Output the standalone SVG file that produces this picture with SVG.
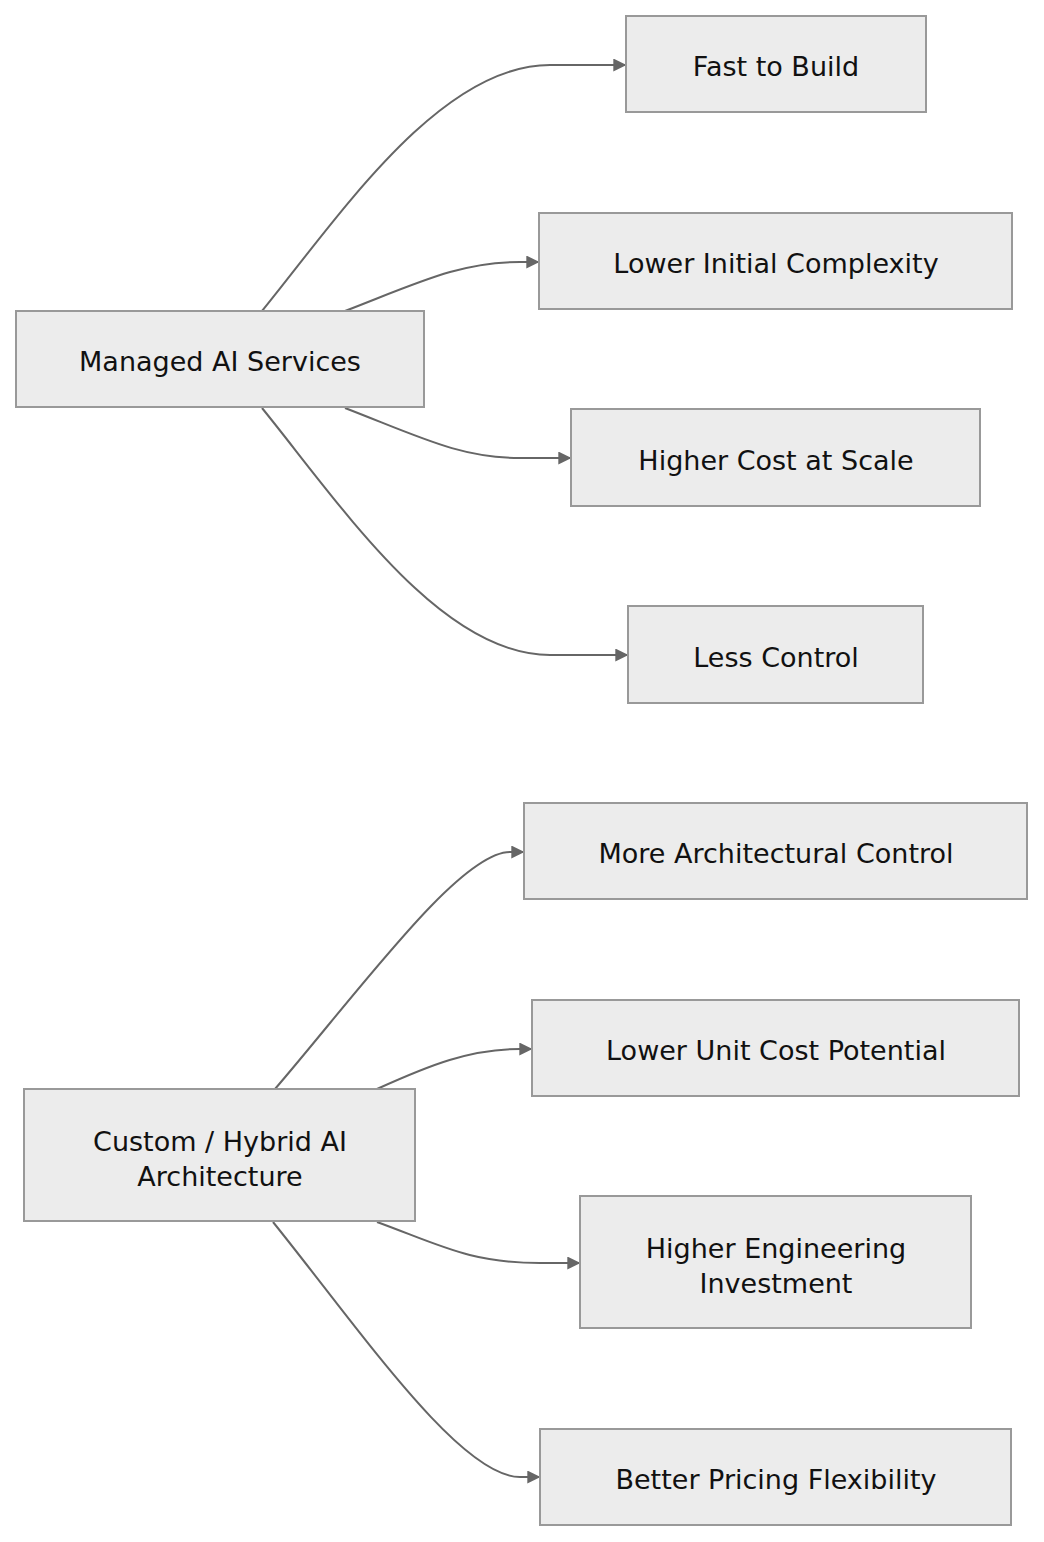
<svg xmlns="http://www.w3.org/2000/svg" width="1044" height="1542" viewBox="0 0 1044 1542">
<style>
.n{fill:#ececec;stroke:#999;stroke-width:2}
.t{font-family:"DejaVu Sans",sans-serif;font-size:27px;fill:#111;text-anchor:middle}
.e{fill:none;stroke:#666;stroke-width:2}
</style>
<defs><marker id="a" viewBox="0 0 10 10" refX="9" refY="5" markerWidth="13" markerHeight="13" markerUnits="userSpaceOnUse" orient="auto"><path d="M0,0L10,5L0,10z" fill="#666"/></marker></defs>
<rect width="1044" height="1542" fill="#fff"/>
<g id="edges">
<path class="e" marker-end="url(#a)" d="M262,311C340,215 440,65 550,65L625,65"/>
<path class="e" marker-end="url(#a)" d="M345,311C420,282 460,262 520,262L538,262"/>
<path class="e" marker-end="url(#a)" d="M345,408C420,437 460,458 520,458L570,458"/>
<path class="e" marker-end="url(#a)" d="M262,408C340,504 440,655 550,655L627,655"/>
<path class="e" marker-end="url(#a)" d="M275,1089C360,990 460,852 510,852L523,852"/>
<path class="e" marker-end="url(#a)" d="M377,1089C430,1065 470,1049 520,1049L531,1049"/>
<path class="e" marker-end="url(#a)" d="M377,1222C440,1245 470,1263 540,1263L579,1263"/>
<path class="e" marker-end="url(#a)" d="M273,1222C360,1330 460,1477 520,1477L539,1477"/>
</g>
<g id="managed"><rect class="n" x="16" y="311" width="408" height="96"/><text class="t" x="220" y="371">Managed AI Services</text></g>
<g id="fast"><rect class="n" x="626" y="16" width="300" height="96"/><text class="t" x="776" y="76">Fast to Build</text></g>
<g id="lower"><rect class="n" x="539" y="213" width="473" height="96"/><text class="t" x="776" y="273">Lower Initial Complexity</text></g>
<g id="higher"><rect class="n" x="571" y="409" width="409" height="97"/><text class="t" x="776" y="470">Higher Cost at Scale</text></g>
<g id="less"><rect class="n" x="628" y="606" width="295" height="97"/><text class="t" x="776" y="667">Less Control</text></g>
<g id="custom"><rect class="n" x="24" y="1089" width="391" height="132"/><text class="t" x="220" y="1151">Custom / Hybrid AI</text><text class="t" x="220" y="1186">Architecture</text></g>
<g id="more"><rect class="n" x="524" y="803" width="503" height="96"/><text class="t" x="776" y="863">More Architectural Control</text></g>
<g id="unit"><rect class="n" x="532" y="1000" width="487" height="96"/><text class="t" x="776" y="1060">Lower Unit Cost Potential</text></g>
<g id="eng"><rect class="n" x="580" y="1196" width="391" height="132"/><text class="t" x="776" y="1258">Higher Engineering</text><text class="t" x="776" y="1293">Investment</text></g>
<g id="better"><rect class="n" x="540" y="1429" width="471" height="96"/><text class="t" x="776" y="1489">Better Pricing Flexibility</text></g>
</svg>
